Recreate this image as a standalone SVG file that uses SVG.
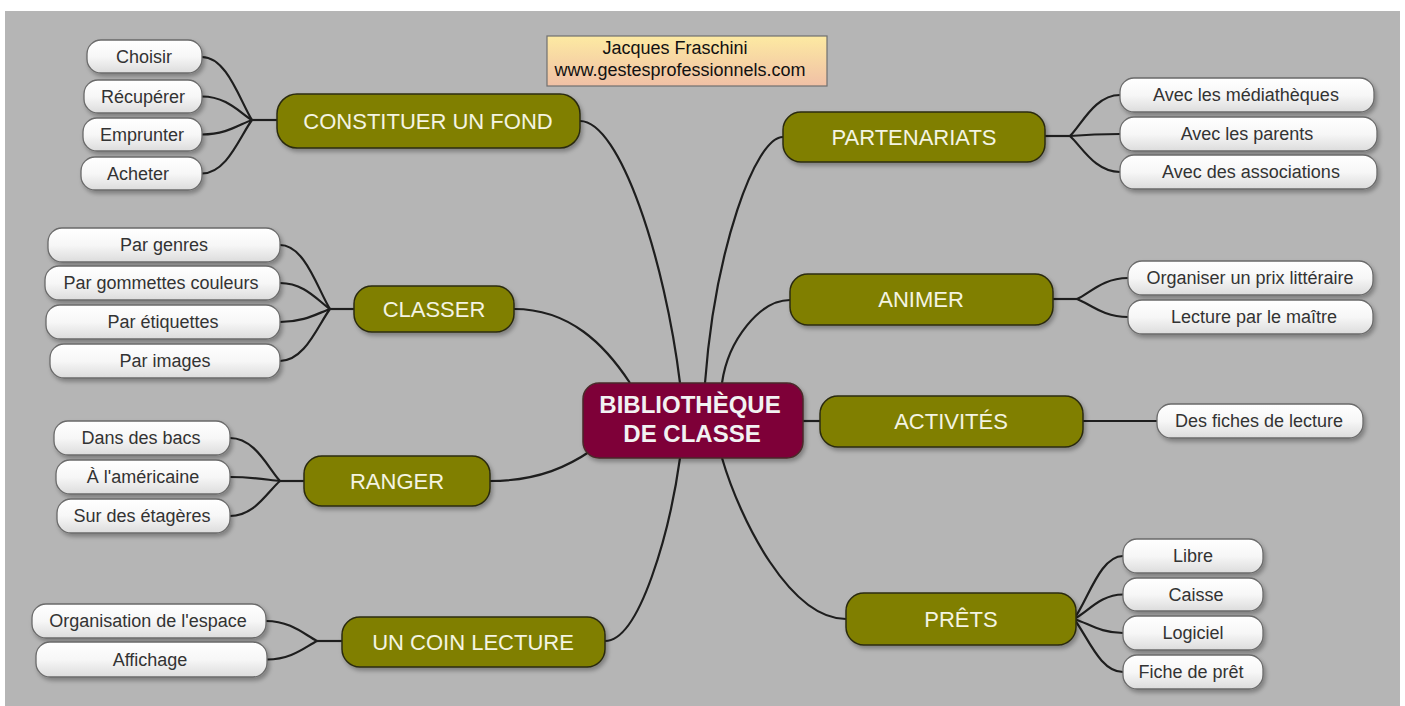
<svg xmlns="http://www.w3.org/2000/svg" width="1405" height="706" viewBox="0 0 1405 706">
<defs>
<linearGradient id="leafG" x1="0" y1="0" x2="0" y2="1"><stop offset="0" stop-color="#ffffff"/><stop offset="0.5" stop-color="#f7f7f7"/><stop offset="1" stop-color="#dcdcdc"/></linearGradient>
<linearGradient id="noteG" x1="0" y1="0" x2="0" y2="1"><stop offset="0" stop-color="#fdeaa2"/><stop offset="1" stop-color="#f0c0a6"/></linearGradient>
<filter id="sh" x="-10%" y="-20%" width="125%" height="150%"><feDropShadow dx="2" dy="3" stdDeviation="2" flood-color="#000" flood-opacity="0.3"/></filter>
</defs>
<style>
.leaf rect{fill:url(#leafG);stroke:#6a6a6a;stroke-width:1.3;filter:url(#sh)}
.leaf text{font-family:"Liberation Sans",Arial,sans-serif;font-size:18px;fill:#333;text-anchor:middle}
.br rect{fill:#807f00;stroke:#2b2b10;stroke-width:1.5;filter:url(#sh)}
.br text{font-family:"Liberation Sans",Arial,sans-serif;font-size:22px;fill:#f4f4e2;text-anchor:middle}
.c path{fill:none;stroke:#1e1e1e;stroke-width:2.2}
</style>
<rect x="0" y="0" width="1405" height="706" fill="#ffffff"/>
<rect x="5" y="11" width="1395" height="695" fill="#b5b5b5"/>

<g class="c" id="connectors">
<path d="M580,121 C620,121 665,260 680,383"/>
<path d="M514,309 C570,309 605,345 630,383"/>
<path d="M490,481 C540,481 570,465 592,450"/>
<path d="M605,641 C640,641 670,530 680,458"/>
<path d="M783,137 C755,137 715,250 705,383"/>
<path d="M790,300 C760,300 728,340 722,383"/>
<path d="M803,421 L820,421"/>
<path d="M846,619 C790,619 740,520 722,458"/>
<path d="M202,57 C227,57 240,101 252,120"/>
<path d="M202,96.5 C227,96.5 240,113 252,120"/>
<path d="M202,134.5 C227,134.5 240,124 252,120"/>
<path d="M202,173.5 C227,173.5 240,136 252,120"/>
<path d="M252,120 L277,120"/>
<path d="M280,245 C305,245 318,290 330,309"/>
<path d="M280,283 C305,283 318,301 330,309"/>
<path d="M280,322 C305,322 318,313 330,309"/>
<path d="M280,361 C305,361 318,325 330,309"/>
<path d="M330,309 L354,309"/>
<path d="M230,438 C255,438 268,468 280,481"/>
<path d="M230,477 C255,477 268,480 280,481"/>
<path d="M230,516 C255,516 268,491 280,481"/>
<path d="M280,481 L304,481"/>
<path d="M266,621 C291,621 305,635 317,641"/>
<path d="M267,659.5 C292,659.5 305,647 317,641"/>
<path d="M317,641 L342,641"/>
<path d="M1120,95 C1095,95 1082,124 1070,136"/>
<path d="M1120,134 C1095,134 1082,135 1070,136"/>
<path d="M1120,172 C1095,172 1082,147 1070,136"/>
<path d="M1045,136 L1070,136"/>
<path d="M1128,278 C1103,278 1090,293 1077,299"/>
<path d="M1128,317 C1103,317 1090,304 1077,299"/>
<path d="M1053,299 L1077,299"/>
<path d="M1083,421 L1157,421"/>
<path d="M1123,556 C1100,556 1088,600 1074,619"/>
<path d="M1123,594.5 C1100,594.5 1088,612 1074,619"/>
<path d="M1123,633 C1100,633 1088,623 1074,619"/>
<path d="M1123,672 C1100,672 1088,637 1074,619"/>
</g>

<g id="note">
<rect x="547" y="36" width="280" height="50" fill="url(#noteG)" stroke="#707070" stroke-width="1.2"/>
<text x="675" y="54" font-family="'Liberation Sans',Arial,sans-serif" font-size="18" fill="#111" text-anchor="middle">Jacques Fraschini</text>
<text x="680" y="76" font-family="'Liberation Sans',Arial,sans-serif" font-size="18" fill="#111" text-anchor="middle">www.gestesprofessionnels.com</text>
</g>

<g id="center">
<rect x="583" y="383" width="220" height="75" rx="16" fill="#7e0039" stroke="#4a2a2a" stroke-width="1.5" filter="url(#sh)"/>
<text x="690" y="413" font-family="'Liberation Sans',Arial,sans-serif" font-size="24" font-weight="bold" fill="#f2f2f2" text-anchor="middle">BIBLIOTHÈQUE</text>
<text x="692" y="442" font-family="'Liberation Sans',Arial,sans-serif" font-size="24" font-weight="bold" fill="#f2f2f2" text-anchor="middle">DE CLASSE</text>
</g>

<g class="br" id="b-constituer"><rect x="277" y="94" width="303" height="54" rx="20"/><text x="428" y="129">CONSTITUER UN FOND</text></g>
<g class="br" id="b-classer"><rect x="354" y="286" width="160" height="46" rx="18"/><text x="434" y="317">CLASSER</text></g>
<g class="br" id="b-ranger"><rect x="304" y="456" width="186" height="50" rx="18"/><text x="397" y="489">RANGER</text></g>
<g class="br" id="b-coin"><rect x="342" y="617" width="263" height="50" rx="18"/><text x="473" y="650">UN COIN LECTURE</text></g>
<g class="br" id="b-partenariats"><rect x="783" y="112" width="262" height="50" rx="18"/><text x="914" y="145">PARTENARIATS</text></g>
<g class="br" id="b-animer"><rect x="790" y="274" width="263" height="51" rx="18"/><text x="921" y="307">ANIMER</text></g>
<g class="br" id="b-activites"><rect x="820" y="396" width="263" height="51" rx="18"/><text x="951" y="429">ACTIVITÉS</text></g>
<g class="br" id="b-prets"><rect x="846" y="593" width="230" height="52" rx="18"/><text x="961" y="627">PRÊTS</text></g>

<g class="leaf" id="l-choisir"><rect x="87" y="40" width="115" height="33" rx="14"/><text x="144" y="63">Choisir</text></g>
<g class="leaf" id="l-recuperer"><rect x="84" y="80" width="118" height="33" rx="14"/><text x="143" y="103">Récupérer</text></g>
<g class="leaf" id="l-emprunter"><rect x="83" y="118" width="119" height="33" rx="14"/><text x="142" y="141">Emprunter</text></g>
<g class="leaf" id="l-acheter"><rect x="81" y="157" width="121" height="33" rx="14"/><text x="138" y="180">Acheter</text></g>

<g class="leaf" id="l-genres"><rect x="48" y="228" width="232" height="34" rx="14"/><text x="164" y="251">Par genres</text></g>
<g class="leaf" id="l-gommettes"><rect x="45" y="266" width="235" height="34" rx="14"/><text x="161" y="289">Par gommettes couleurs</text></g>
<g class="leaf" id="l-etiquettes"><rect x="46" y="305" width="234" height="34" rx="14"/><text x="163" y="328">Par étiquettes</text></g>
<g class="leaf" id="l-images"><rect x="50" y="344" width="230" height="34" rx="14"/><text x="165" y="367">Par images</text></g>

<g class="leaf" id="l-bacs"><rect x="54" y="421" width="176" height="34" rx="14"/><text x="141" y="444">Dans des bacs</text></g>
<g class="leaf" id="l-americaine"><rect x="56" y="460" width="174" height="34" rx="14"/><text x="143" y="483">À l'américaine</text></g>
<g class="leaf" id="l-etageres"><rect x="57" y="499" width="173" height="34" rx="14"/><text x="142" y="522">Sur des étagères</text></g>

<g class="leaf" id="l-espace"><rect x="32" y="604" width="234" height="34" rx="14"/><text x="148" y="627">Organisation de l'espace</text></g>
<g class="leaf" id="l-affichage"><rect x="36" y="642" width="231" height="35" rx="14"/><text x="150" y="666">Affichage</text></g>

<g class="leaf" id="l-mediatheques"><rect x="1120" y="78" width="254" height="34" rx="14"/><text x="1246" y="101">Avec les médiathèques</text></g>
<g class="leaf" id="l-parents"><rect x="1120" y="117" width="257" height="34" rx="14"/><text x="1247" y="140">Avec les parents</text></g>
<g class="leaf" id="l-associations"><rect x="1120" y="155" width="257" height="34" rx="14"/><text x="1251" y="178">Avec des associations</text></g>

<g class="leaf" id="l-prix"><rect x="1128" y="261" width="245" height="34" rx="14"/><text x="1250" y="284">Organiser un prix littéraire</text></g>
<g class="leaf" id="l-maitre"><rect x="1128" y="300" width="245" height="34" rx="14"/><text x="1254" y="323">Lecture par le maître</text></g>

<g class="leaf" id="l-fiches"><rect x="1157" y="404" width="206" height="34" rx="14"/><text x="1259" y="427">Des fiches de lecture</text></g>

<g class="leaf" id="l-libre"><rect x="1123" y="539" width="140" height="34" rx="14"/><text x="1193" y="562">Libre</text></g>
<g class="leaf" id="l-caisse"><rect x="1123" y="578" width="140" height="33" rx="14"/><text x="1196" y="601">Caisse</text></g>
<g class="leaf" id="l-logiciel"><rect x="1123" y="616" width="140" height="34" rx="14"/><text x="1193" y="639">Logiciel</text></g>
<g class="leaf" id="l-fiche"><rect x="1123" y="655" width="140" height="34" rx="14"/><text x="1191" y="678">Fiche de prêt</text></g>
</svg>
